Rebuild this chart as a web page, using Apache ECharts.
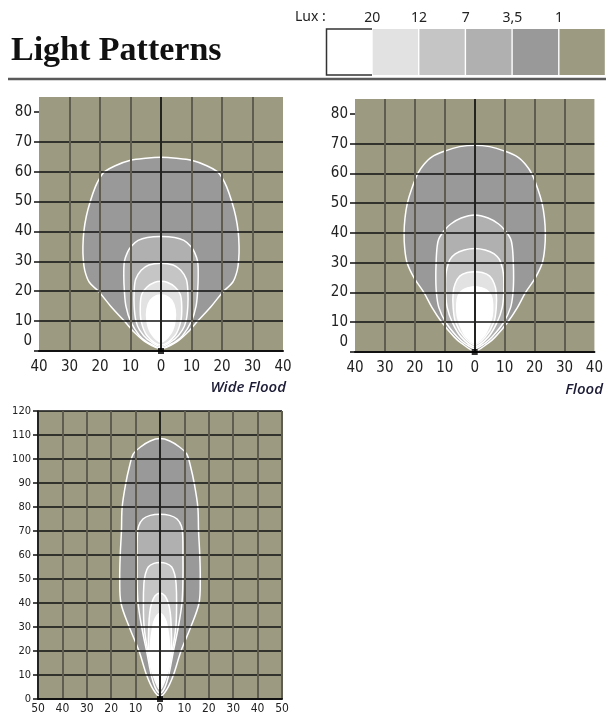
<!DOCTYPE html>
<html>
<head>
<meta charset="utf-8">
<script src="https://cdn.jsdelivr.net/npm/echarts@6/dist/echarts.min.js"></script>
<style>
  html, body { margin: 0; padding: 0; background: #fff; }
  #chart { width: 606px; height: 715px; }
</style>
</head>
<body>
<div id="chart"></div>
<script>
// legend
const luxLabels = ['20', '12', '7', '3,5', '1'];
const levelColors = ['#ffffff', '#e2e2e2', '#c5c5c5', '#b0b0b0', '#999999', '#9d9a82'];

// contour half-profiles as [distance, half width], read off the right side and mirrored
// Wide Flood
const wide1 = [[0.8, 0], [3, 5], [6, 8.5], [10, 12], [15, 16.5], [20, 20.5], [23, 23.5], [27, 25], [31, 25.5], [35, 25.6], [40, 25.3], [45, 24.5], [50, 23.2], [55, 21.5], [58, 20], [60, 18.5], [62, 15], [63.8, 10], [64.5, 5], [64.8, 0]];
const wide35 = [[1, 0], [3, 4.5], [5, 7], [10, 10], [15, 11.5], [20, 12], [25, 12.2], [30, 12], [33, 11], [35, 9.8], [37, 7.5], [38, 4.5], [38.3, 0]];
const wide7 = [[1.5, 0], [4, 4.5], [7, 7], [10, 8.2], [15, 8.8], [20, 8.8], [24, 8.3], [27, 6.5], [28.8, 4], [29.4, 0]];
const wide12 = [[2, 0], [5, 4.5], [10, 6.5], [15, 6.8], [19, 6.3], [21.5, 4.5], [23, 2], [23.3, 0]];
const wide20 = [[3, 0], [6, 3.3], [10, 4.6], [14, 4.6], [17, 3.5], [18.5, 1.5], [18.7, 0]];

// Flood
const flood1 = [[0.4, 0], [3, 4.5], [5, 6.8], [10, 11], [15, 14.3], [20, 17], [25, 20.3], [30, 22.6], [35, 23.4], [40, 23.6], [45, 23.3], [50, 22.5], [55, 21], [60, 19], [63, 17], [65.5, 14.4], [67.5, 10], [69, 5], [69.5, 0]];
const flood35 = [[1.2, 0], [3, 3.5], [5, 5.8], [10, 9.7], [15, 12], [20, 12.8], [25, 13], [30, 12.9], [35, 12.6], [38, 12], [41, 10], [43, 8], [45, 4.5], [46, 0]];
const flood7 = [[1.8, 0], [5, 4.5], [10, 7.5], [15, 9.2], [20, 9.7], [25, 9.7], [28, 9.3], [31, 8.3], [33, 6.5], [34.3, 3.5], [34.8, 0]];
const flood12 = [[2.5, 0], [5, 3.5], [10, 6.4], [15, 7.2], [20, 7.2], [23, 6.5], [25.5, 5], [26.7, 2.5], [27, 0]];
const flood20 = [[3, 0], [5, 2.8], [8, 4.5], [12, 5.8], [16, 6], [19, 5.5], [20.8, 4], [21.6, 2], [21.9, 0]];

// narrow beam
const narrow1 = [[1, 0], [4, 2.8], [10, 5.5], [20, 8.6], [30, 12.6], [40, 16], [50, 16.5], [60, 16.3], [70, 15.8], [80, 15.5], [90, 14], [97, 12.5], [102, 11], [105, 8], [107.5, 4], [108.5, 0]];
const narrow35 = [[2.4, 0], [7, 2.8], [20, 5.5], [30, 7.5], [40, 9], [50, 9.4], [60, 9.4], [68, 9.3], [72, 8.8], [75, 7], [76.5, 4], [77, 0]];
const narrow7 = [[4, 0], [10, 2.8], [20, 5], [30, 6.5], [40, 6.8], [48, 6.6], [52, 6], [55, 4.8], [56.5, 2.5], [56.9, 0]];
const narrow12 = [[5, 0], [10, 2.5], [20, 4.6], [30, 4.6], [36, 4.2], [40, 3.4], [43, 2], [44.2, 0]];
const narrow20 = [[6, 0], [10, 2.8], [15, 4], [22, 4], [30, 3], [33.5, 2], [35.6, 0]];

const wideContours = [wide1, wide35, wide7, wide12, wide20];
const floodContours = [flood1, flood35, flood7, flood12, flood20];
const narrowContours = [narrow1, narrow35, narrow7, narrow12, narrow20];

const yTicks85 = [0, 10, 20, 30, 40, 50, 60, 70, 80];

const chart = echarts.init(document.getElementById('chart'));

const axisFont = 'DejaVu Sans Condensed, Liberation Sans Narrow, sans-serif';
const hLine = { color: '#111', width: 1.5 };
const vLine = { color: '#5e5d50', width: 2 };

function xAxisFor(idx, range, fontSize, margin, edges) {
  return {
    gridIndex: idx, type: 'value', min: -range, max: range, interval: 10, z: 5,
    axisLine: { show: true, onZero: false, lineStyle: { color: '#111', width: 2 } },
    axisTick: { show: false },
    axisLabel: { formatter: v => String(Math.abs(v)), fontFamily: axisFont, fontSize: fontSize, color: '#222', margin: margin },
    splitLine: { show: true, lineStyle: vLine, showMinLine: edges, showMaxLine: edges }
  };
}

function yAxisFor(idx, max, fontSize, liftZero, edges) {
  const ticks = yTicks85.slice();
  return {
    gridIndex: idx, type: 'value', min: 0, max: max, interval: 10, z: 5,
    axisLine: { show: edges, onZero: false, lineStyle: { color: '#111', width: 1.5 } },
    axisTick: { show: true, length: 5, lineStyle: { color: '#111', width: 1.5 }, customValues: max === 85 ? ticks : undefined },
    axisLabel: {
      fontFamily: axisFont, fontSize: fontSize, color: '#222', margin: 7,
      formatter: v => (v % 10 !== 0 ? '' : (v === 0 && liftZero ? '{z|0}' : String(v))),
      rich: { z: { fontFamily: axisFont, fontSize: fontSize, color: '#222', padding: [0, 0, 20, 0] } }
    },
    splitLine: { show: true, lineStyle: hLine, showMinLine: true, showMaxLine: edges }
  };
}

function contourSeries(idx, halves) {
  return {
    type: 'custom', coordinateSystem: 'cartesian2d', xAxisIndex: idx, yAxisIndex: idx,
    z: 1, silent: true,
    data: halves.map((h, i) => [0, 0, i]),
    renderItem: (params, api) => {
      const half = halves[params.dataIndex];
      const right = half.map(p => api.coord([p[1], p[0]]));
      const left = half.slice(1, -1).reverse().map(p => api.coord([-p[1], p[0]]));
      return {
        type: 'polygon',
        shape: { points: right.concat(left), smooth: 0.35 },
        style: { fill: levelColors[4 - params.dataIndex], stroke: '#fff', lineWidth: 1.5 }
      };
    }
  };
}

function originSeries(idx) {
  return {
    type: 'scatter', xAxisIndex: idx, yAxisIndex: idx, data: [[0, 0]],
    symbol: 'rect', symbolSize: 6, itemStyle: { color: '#000' }, z: 10, silent: true, clip: false,
    markLine: {
      silent: true, symbol: 'none', label: { show: false },
      lineStyle: { color: '#111', width: 1.5, type: 'solid' },
      data: [{ xAxis: 0 }]
    }
  };
}

// legend boxes and labels
const legend = [];
legend.push({ type: 'text', left: 295, top: 10, style: { text: 'Lux :', font: '14px "Noto Sans", sans-serif', fill: '#222' } });
levelColors.forEach((c, i) => {
  legend.push({ type: 'rect', shape: { x: 326 + i * 46.7, y: 29, width: 45.3, height: 46 }, style: { fill: c } });
});
legend.push({ type: 'polyline', shape: { points: [[372, 29], [326.5, 29], [326.5, 75], [372, 75]] }, style: { stroke: '#333', lineWidth: 1.5, fill: null } });
luxLabels.forEach((t, i) => {
  legend.push({ type: 'text', x: 372.3 + i * 46.7, y: 18, style: { text: t, font: '14px "Noto Sans", sans-serif', fill: '#222', align: 'center', verticalAlign: 'middle' } });
});
legend.push({ type: 'line', shape: { x1: 8, y1: 79, x2: 606, y2: 79 }, style: { stroke: '#5a5a5a', lineWidth: 2.5 } });

const nameStyle = { fontFamily: 'Open Sans, sans-serif', fontStyle: 'italic', fontWeight: 600, fontSize: 15, color: '#1c1c36' };

chart.setOption({
  animation: false,
  title: [
    { text: 'Light Patterns', left: 6, top: 29, textStyle: { fontFamily: 'Liberation Serif, serif', fontWeight: 'bold', fontSize: 34, color: '#111' } },
    { text: 'Wide Flood', right: 320, top: 380, padding: 0, textStyle: nameStyle },
    { text: 'Flood', right: 3, top: 382, padding: 0, textStyle: nameStyle }
  ],
  graphic: legend,
  grid: [
    { left: 39, top: 97, width: 244, height: 254, show: true, backgroundColor: levelColors[5], borderWidth: 0 },
    { left: 355, top: 99, width: 241, height: 253, show: true, backgroundColor: levelColors[5], borderWidth: 0 },
    { left: 38, top: 411, width: 244, height: 288, show: true, backgroundColor: levelColors[5], borderWidth: 0 }
  ],
  xAxis: [
    xAxisFor(0, 40, 15, 9, false),
    xAxisFor(1, 40, 15, 9, false),
    xAxisFor(2, 50, 12, 4, true)
  ],
  yAxis: [
    yAxisFor(0, 85, 15, true, false),
    yAxisFor(1, 85, 15, true, false),
    yAxisFor(2, 120, 11, false, true)
  ],
  series: [
    contourSeries(0, wideContours), originSeries(0),
    contourSeries(1, floodContours), originSeries(1),
    contourSeries(2, narrowContours), originSeries(2)
  ]
});
</script>
</body>
</html>
